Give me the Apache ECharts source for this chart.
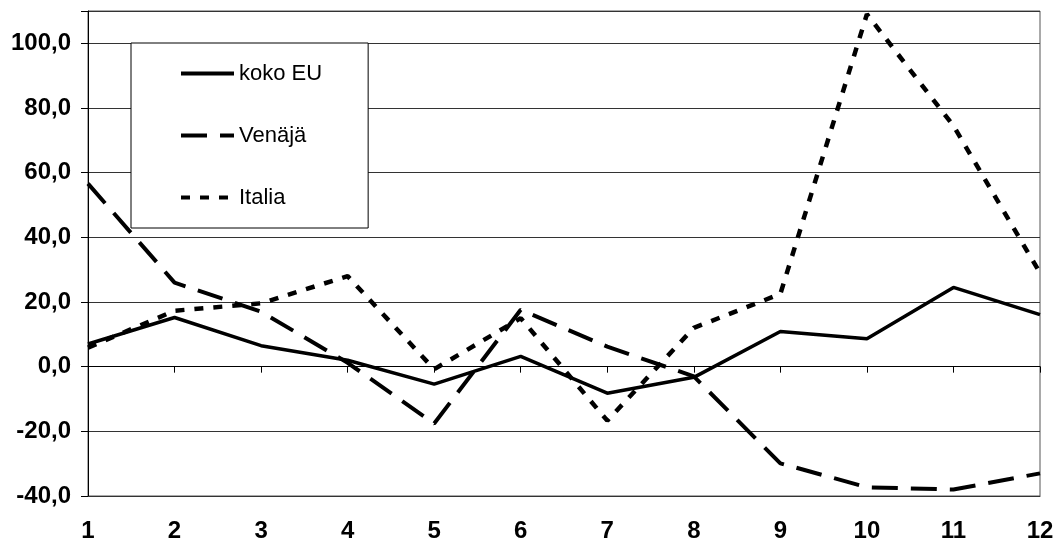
<!DOCTYPE html>
<html>
<head>
<meta charset="utf-8">
<script src="https://cdn.jsdelivr.net/npm/echarts@6/dist/echarts.min.js"></script>
<style>
  html, body { margin: 0; padding: 0; background: #fff; }
</style>
</head>
<body>
<div id="chart" style="width: 1058px; height: 540px"></div>
<script>
const months = ['1', '2', '3', '4', '5', '6', '7', '8', '9', '10', '11', '12']
const kokoEU = [7.0, 15.2, 6.5, 2.0, -5.4, 3.2, -8.2, -3.3, 10.9, 8.6, 24.5, 16.1]
const venaja = [56.6, 26.0, 17.0, 1.2, -17.6, 17.6, 6.2, -3.0, -29.9, -37.3, -38.0, -33.0]
const italia = [5.9, 17.3, 19.6, 28.0, -0.8, 15.0, -16.7, 12.0, 22.5, 109.0, 74.5, 29.0]

const chart = echarts.init(document.getElementById('chart'))
const font = 'Liberation Sans, Arial, sans-serif'

chart.setOption({
  animation: false,
  backgroundColor: '#fff',
  grid: {
    left: 88, right: 18, top: 11, bottom: 44,
    outerBoundsMode: 'none',
    show: true, borderColor: '#555', borderWidth: 1,
  },
  legend: {
    orient: 'vertical',
    left: 131, top: 43,
    itemWidth: 53, itemHeight: 14,
    itemGap: 37,
    padding: [18, 46, 18, 48],
    borderColor: '#000', borderWidth: 1,
    backgroundColor: '#fff',
    itemStyle: { opacity: 0 },
    lineStyle: { width: 4 },
    textStyle: { fontFamily: font, fontSize: 22, color: '#000', lineHeight: 25 },
    data: ['koko EU', 'Venäjä', 'Italia'],
  },
  xAxis: [{
    type: 'category',
    data: months,
    boundaryGap: false,
    axisLine: { onZero: false, lineStyle: { color: '#333' } },
    axisTick: { show: false },
    axisLabel: { fontFamily: font, fontSize: 24, fontWeight: 'bold', color: '#000', margin: 23 },
  }, {
    type: 'category',
    data: months,
    boundaryGap: false,
    position: 'bottom',
    axisLine: { onZero: true, lineStyle: { color: '#000' } },
    axisTick: { show: true, inside: false, length: 6, lineStyle: { color: '#000' } },
    axisLabel: { show: false },
  }],
  yAxis: {
    type: 'value',
    min: -40, max: 110, interval: 20,
    axisLine: { show: true, lineStyle: { color: '#000' } },
    axisTick: { show: true, length: 7, lineStyle: { color: '#000' } },
    splitLine: { lineStyle: { color: '#333', width: 1 } },
    axisLabel: {
      fontFamily: font, fontSize: 24, fontWeight: 'bold', color: '#000', margin: 17,
      formatter: v => (v > 100 ? '' : v.toFixed(1).replace('.', ',')),
    },
  },
  series: [{
    name: 'koko EU',
    type: 'line',
    data: kokoEU,
    symbol: 'none',
    itemStyle: { color: '#000' },
    lineStyle: { color: '#000', width: 3.5 },
  }, {
    name: 'Venäjä',
    type: 'line',
    data: venaja,
    symbol: 'none',
    itemStyle: { color: '#000' },
    lineStyle: { color: '#000', width: 4, type: [26, 13] },
  }, {
    name: 'Italia',
    type: 'line',
    data: italia,
    symbol: 'none',
    itemStyle: { color: '#000' },
    lineStyle: { color: '#000', width: 4.5, type: [9, 10] },
  }],
})

window.addEventListener('resize', () => chart.resize())
</script>
</body>
</html>
